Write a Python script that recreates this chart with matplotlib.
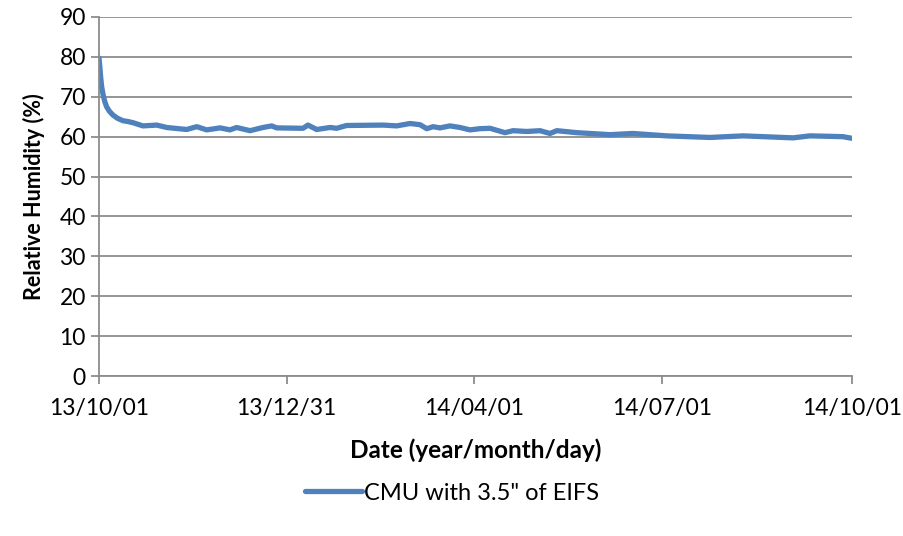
import matplotlib.pyplot as plt

plt.rcParams.update({
    "font.family": ["Lato", "DejaVu Sans"],
    "figure.facecolor": "white",
    "axes.facecolor": "white",
})

# days since 2013-10-01 and relative humidity
days = [0, 0.4, 0.8, 1.3, 2.0, 2.8, 3.7, 5.0, 6.8, 9.0, 11.6, 14.0, 16.5, 21.3, 28, 32.8,
        42.5, 47.4, 52.2, 58.7, 63.5, 66.7, 73.2, 79.5, 83.7, 86.1, 98.9, 101.3,
        105.5, 112, 115.2, 120, 137.7, 144.3, 150.8, 155.6, 158.9, 161.9, 165.3,
        170.1, 175, 179.8, 184.7, 189.5, 196.8, 200.7, 207.3, 213.8, 218.6, 221.9,
        231.6, 247.7, 258.8, 275.2, 296.2, 312.2, 336.4, 344.6, 360.6, 364.8]
rh = [79.7, 77.5, 75.0, 72.5, 70.5, 68.8, 67.5, 66.4, 65.4, 64.6, 64.0, 63.8, 63.5, 62.7, 62.9, 62.3,
      61.8, 62.5, 61.7, 62.2, 61.7, 62.3, 61.5, 62.3, 62.7, 62.2, 62.1, 62.9,
      61.8, 62.3, 62.1, 62.8, 62.9, 62.7, 63.3, 63.0, 62.0, 62.5, 62.2,
      62.7, 62.3, 61.7, 62.0, 62.1, 61.0, 61.5, 61.3, 61.5, 60.8, 61.5,
      61.0, 60.5, 60.8, 60.2, 59.8, 60.2, 59.7, 60.2, 60.0, 59.6]

tick_days = [0, 91, 182, 273, 365]
tick_labels = ["13/10/01", "13/12/31", "14/04/01", "14/07/01", "14/10/01"]
series_name = 'CMU with 3.5" of EIFS'

fig = plt.figure(figsize=(9.04, 5.36), dpi=100)
ax = fig.add_axes([0.1095, 0.2985, 0.833, 0.6698])

ax.plot(days, rh, color="#4F81BD", linewidth=3.8, solid_capstyle="round",
        solid_joinstyle="round", label=series_name)

ax.set_xlim(0, 365)
ax.set_ylim(0, 90)
ax.set_yticks(range(0, 91, 10))
ax.set_xticks(tick_days)
ax.set_xticklabels(tick_labels)
ax.yaxis.grid(True, color="#8c8c8c", linewidth=1.3)
ax.set_axisbelow(True)

for side in ["top", "right"]:
    ax.spines[side].set_visible(False)
for side in ["left", "bottom"]:
    ax.spines[side].set_color("#8c8c8c")
    ax.spines[side].set_linewidth(1.3)

ax.tick_params(axis="both", colors="#8c8c8c", width=1.3, length=6, labelsize=16.5,
               labelcolor="black")
ax.tick_params(axis="x", pad=10)

ax.set_xlabel("Date (year/month/day)", fontsize=17.5, fontweight="bold", labelpad=14)
ax.set_ylabel("Relative Humidity (%)", fontsize=15.5, fontweight="bold", labelpad=10)

fig.legend(loc="center", bbox_to_anchor=(0.5, 0.08), frameon=False, fontsize=17,
           handlelength=2.4, handletextpad=0.1)

fig.savefig("out.png", dpi=100)
